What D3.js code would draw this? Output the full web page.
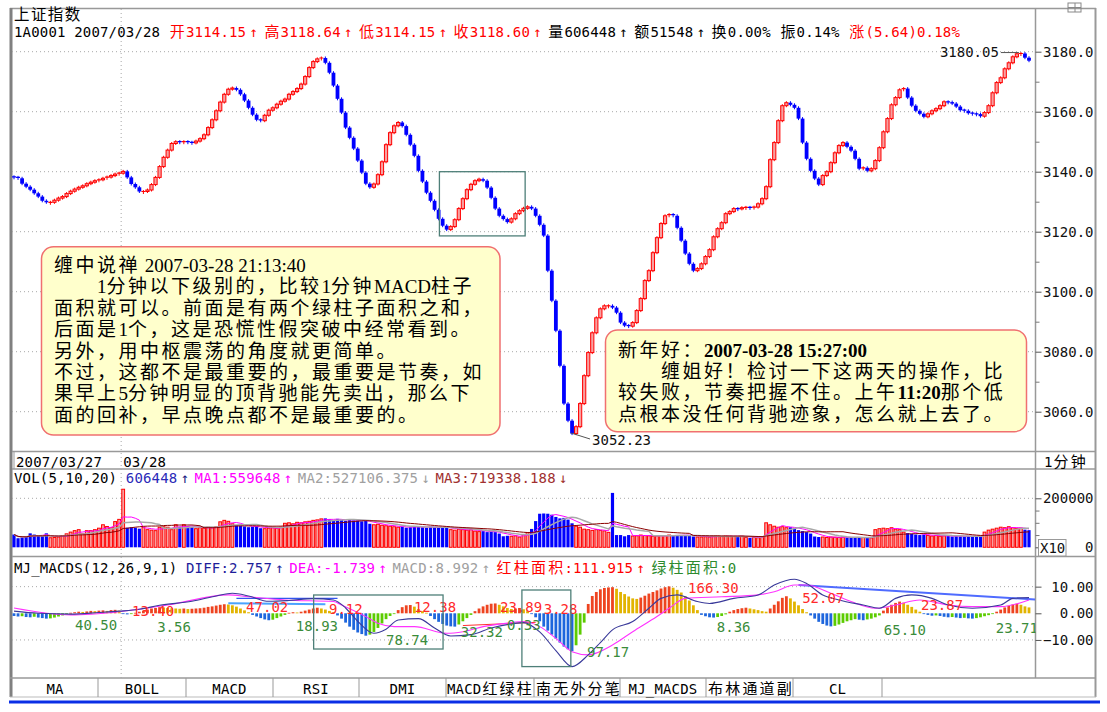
<!DOCTYPE html>
<html><head><meta charset="utf-8">
<script src="https://cdn.jsdelivr.net/npm/d3@7"></script>
<style>body{margin:0;background:#fff}svg{display:block}text{white-space:pre}</style>
</head><body>
<svg id="c" width="1107" height="712"></svg>
<script>
// ---------------- DATA ----------------
const closes = [3138.1,3137.8,3136.0,3135.0,3134.0,3132.8,3131.7,3130.3,3129.8,3129.8,
3130.5,3131.2,3131.7,3132.7,3133.5,3134.2,3134.8,3135.3,3136.0,3136.5,
3137.0,3137.3,3137.8,3138.2,3138.7,3139.2,3139.5,3140.1,3138.1,3135.9,
3134.8,3133.4,3133.4,3133.9,3135.7,3138.1,3141.7,3144.8,3147.2,3149.4,
3150.0,3149.8,3150.0,3149.8,3149.6,3150.2,3151.0,3152.3,3154.7,3157.3,
3160.3,3163.2,3165.8,3167.5,3167.9,3167.3,3165.8,3163.7,3161.3,3159.0,
3157.3,3157.0,3158.8,3160.5,3161.3,3162.5,3163.5,3164.2,3165.8,3166.7,
3167.7,3169.2,3171.7,3174.7,3176.7,3177.6,3177.9,3176.3,3173.0,3168.7,
3164.3,3159.7,3154.7,3151.3,3147.7,3143.7,3139.7,3136.0,3134.8,3135.9,
3139.0,3143.3,3149.0,3153.0,3155.3,3156.4,3155.2,3152.3,3149.0,3145.3,
3140.3,3136.7,3133.0,3130.3,3127.3,3124.3,3122.0,3120.7,3121.7,3124.0,
3127.7,3131.0,3134.0,3135.8,3137.0,3137.5,3137.0,3134.7,3131.3,3127.7,
3125.3,3124.2,3123.2,3124.3,3126.0,3127.0,3127.8,3128.3,3127.7,3125.3,
3122.3,3118.7,3107.0,3097.0,3087.0,3075.3,3062.7,3057.0,3052.7,3055.0,
3062.7,3072.0,3079.7,3086.3,3091.3,3094.3,3095.3,3095.3,3094.7,3093.0,
3089.7,3088.7,3088.5,3089.7,3093.7,3097.7,3103.7,3107.0,3113.0,3118.0,
3122.7,3125.3,3125.7,3125.3,3121.3,3117.0,3112.7,3109.3,3107.0,3107.7,
3109.3,3111.7,3114.0,3118.3,3121.0,3123.0,3126.0,3126.7,3127.7,3127.6,
3128.0,3128.1,3128.0,3128.2,3129.3,3131.0,3135.0,3144.0,3149.7,3157.0,
3162.0,3163.0,3162.3,3161.3,3157.7,3149.7,3144.3,3140.3,3137.7,3135.7,
3138.7,3140.0,3143.0,3146.3,3148.7,3149.7,3148.3,3147.0,3144.3,3141.0,
3141.3,3140.3,3141.0,3143.7,3148.0,3153.3,3157.7,3162.3,3164.7,3167.3,
3167.7,3164.7,3162.0,3160.3,3159.3,3158.3,3159.3,3160.3,3161.0,3162.0,
3163.3,3163.2,3162.7,3161.7,3160.5,3160.3,3159.5,3159.3,3159.2,3158.5,
3159.7,3162.0,3166.3,3169.7,3171.3,3174.3,3176.3,3178.3,3179.3,3179.4,
3178.0,3177.0];
const firstOpen = 3138.3;

const volumes = [52000,37000,40000,42000,57000,52000,48000,45000,
57000,39000,40000,42000,48000,55000,62000,68000,72000,55000,68000,68000,72000,78000,92000,85000,80000,105000,
114000,237000,
80000,82000,80000,76000,
82000,72000,70000,68000,82000,84000,82000,72000,
92000,84000,92000,86000,82000,76000,
80000,78000,82000,80000,84000,
104000,110000,106000,
96000,90000,88000,85000,82000,84000,86000,
78000,76000,78000,80000,78000,82000,
98000,100000,96000,102000,100000,104000,106000,
110000,112000,116000,118000,114000,110000,116000,112000,108000,114000,110000,
110000,106000,108000,
96000,92000,94000,90000,88000,86000,
84000,82000,84000,80000,82000,86000,84000,82000,80000,84000,82000,80000,82000,80000,
72000,70000,74000,72000,70000,72000,
66000,64000,66000,62000,64000,62000,
56000,45000,47000,45000,47000,42000,52000,60000,75000,107000,
137000,138000,137000,133000,124000,118000,120000,113000,98000,86000,
82000,74000,72000,69000,72000,69000,67000,61000,222000,50000,
50000,45000,50000,46000,47000,50000,48000,47000,45000,46000,
48000,47000,50000,48000,50000,50000,50000,50000,
44000,42000,42000,43000,42000,
45000,46000,44000,46000,45000,44000,46000,45000,
40000,38000,40000,39000,41000,
100000,92000,86000,
82000,84000,80000,82000,78000,
70000,66000,62000,56000,
44000,42000,42000,40000,42000,41000,40000,
42000,40000,40000,39000,41000,40000,
38000,38000,
72000,76000,78000,76000,80000,74000,72000,
62000,58000,55000,52000,50000,52000,
48000,46000,48000,45000,47000,46000,44000,46000,45000,44000,46000,44000,45000,46000,
62000,70000,74000,78000,82000,80000,84000,80000,
76000,78000,72000,70000];

const macdHist = [-1.0,-1.2,-1.1,-1.4,-1.5,-1.3,-1.6,-1.8,-2.0,-1.9,-1.6,-1.2,-0.8,
-0.3,0.2,0.4,0.6,0.5,0.7,0.9,0.8,1.0,1.1,0.9,1.2,1.3,1.0,
-0.2,-0.4,-0.3,0.2,
0.6,1.0,1.4,1.8,2.0,2.3,2.2,2.0,
1.9,1.8,1.7,1.8,1.6,1.7,1.8,1.9,2.1,2.4,2.6,
2.9,3.2,3.4,3.3,3.0,
2.5,1.8,1.1,0.4,
-0.6,-1.2,-1.8,-2.3,-2.6,
-2.4,-1.8,-1.2,-0.6,
0.2,0.4,0.3,
0.6,1.0,1.4,1.8,2.1,
1.8,1.4,0.9,0.4,
-0.8,-2.0,-3.5,-5.0,-6.2,-7.2,-7.8,-8.4,
-8.0,-7.0,-5.5,-3.8,-2.2,-1.0,-0.2,
1.2,2.3,3.0,3.1,2.5,
1.6,0.8,0.2,
-1.0,-2.2,-3.2,-4.0,-4.6,-4.9,-5.0,
-4.2,-3.0,-1.8,-0.6,
0.8,1.8,2.6,3.2,3.6,3.7,
3.2,2.6,2.0,1.6,
1.8,2.0,1.5,0.8,
-0.3,-1.5,
-3.0,-5.0,-6.5,-8.0,-9.5,-11.0,-12.5,-13.5,-14.2,
-12.0,-8.0,-3.5,
3.5,6.5,8.0,9.0,9.5,
9.7,9.8,9.2,
8.0,7.2,6.3,5.6,
5.4,5.9,6.6,7.4,
8.0,8.6,9.3,9.8,10.1,
9.6,8.8,7.8,6.4,
4.8,3.0,1.2,
-0.6,-1.1,-1.5,-1.6,-1.4,-1.0,-0.4,
0.6,1.2,1.6,1.9,2.1,
1.8,1.5,1.2,0.8,0.6,
1.8,3.2,4.5,5.8,6.4,
5.6,4.4,3.0,1.6,
0.4,-0.8,
-2.0,-3.2,-4.0,-4.6,-4.9,
-4.7,-4.2,-3.6,-3.0,-2.6,-2.2,
-2.4,-2.6,-2.3,-2.0,-1.5,-0.8,
1.0,2.2,3.2,3.9,4.4,
4.0,3.2,2.4,1.4,0.6,
-0.3,-0.6,-0.9,-0.8,-1.0,-1.3,-1.5,-1.4,-1.6,-1.8,-1.7,-1.9,-2.0,-1.8,-1.5,-1.1,-0.7,-0.3,
0.6,1.4,2.2,2.8,3.3,3.6,
3.2,2.6,2.2];

const diffBars = [0,6,14,21,26,31,36,44,50,54,58,63,68,74,79,82,85,89,92,95,100,104,108,113,118,123,126,130,134,138,142,145,148,153,157,160,164,169,172,178,184,188,193,196,200,204,210,214,218,222,227,231,237,244,247,251];
const diffValues = [0.8,0,-0.3,0.3,0.8,1.5,3,4.5,6.5,7.5,6.5,4.5,4.8,5.5,5,2,-3,-7.5,-6,-2.5,-2,-5.5,-8.5,-8,-5.5,-4,-3.5,-7,-14,-20,-15.6,-11,-6.2,-3.1,1.9,5.6,6.9,4.4,3.7,5.6,6.9,10.6,12.8,11.2,6.9,5,3.1,1.9,5.6,6.9,5.6,3.1,1.9,3.1,5.6,5.9];
const deaBars = [0,14,26,38,53,58,67,79,81,87,90,94,99,107,111,116,122,126,130,134,138,142,148,153,159,162,166,175,184,188,193,196,202,207,213,218,224,231,237,244,251];
const deaValues = [2.0,-0.6,0.6,3.1,6.9,6.2,5,4.4,3.1,-1.25,-3.75,-5,-5,-7.5,-6.9,-5,-3.7,-3.1,-5,-9.4,-14.4,-15.6,-11.9,-6.9,-1.2,1.9,5.6,6.2,6.9,8.1,10.6,10.6,7.5,4.4,1.9,3.1,5,3.1,2.5,2.5,5];

const areaLabels = ["40.50","13.40","3.56","47.02","18.93","9.12","78.74","12.38","32.32","23.89","0.33","3.28","97.17","166.30","8.36","52.07","65.10","23.87","23.71"];
const areaLabelBar = [15.1,29.2,35.4,57.4,69.7,77.9,92,98.9,110.5,120.2,121.9,131,141.7,166.7,173.8,194.9,215.1,224.3,242.8];
const areaLabelVal = [-6.3,-1.0,-7.2,0.6,-6.6,-0.2,-11.9,0.5,-9,0.5,-6.3,-0.4,-16.3,7.5,-6.9,3.8,-8.1,1.2,-7.5];
const areaLabelSign = [-1,1,-1,1,-1,1,-1,1,-1,1,-1,1,-1,1,-1,1,-1,1,-1];

const trendFromBar = [53,55,194,111];
const trendFromVal = [3.8,5.6,10.6,-4.6];
const trendToBar = [77,80,252.5,129];
const trendToVal = [3.4,5.6,5.2,-3.4];

const priceTicks = [3060,3080,3100,3120,3140,3160,3180];
const priceMinor = [3070,3090,3110,3130,3150,3170];
const volTicks = [0,200000];
const volMinor = [50000,100000,150000];
const macdTicks = [-10,0,10];

const priceBox = [105.2,126.4,3140,3118.6];
const macdBoxes = [[74.1,106.1,6.87,-13.4],[125.6,137.7,8.74,-20.0]];
const lowMark = {bar:138, value:3052.23, text:"3052.23"};
const highMark = {bar:249, value:3180.05, text:"3180.05"};

const dayLabels = ["2007/03/27","03/28"];
const dayBoundary = 26.5;
const tabs = ["MA","BOLL","MACD","RSI","DMI","MACD红绿柱","南无外分笔","MJ_MACDS","布林通道副","CL"];

const note1 = ["缠中说禅 2007-03-28 21:13:40","　　1分钟以下级别的，比较1分钟MACD柱子","面积就可以。前面是有两个绿柱子面积之和，","后面是1个，这是恐慌性假突破中经常看到。","另外，用中枢震荡的角度就更简单。","不过，这都不是最重要的，最重要是节奏，如","果早上5分钟明显的顶背驰能先卖出，那么下","面的回补，早点晚点都不是最重要的。"];
const note2 = ["新年好：2007-03-28 15:27:00","　　缠姐好！检讨一下这两天的操作，比","较失败，节奏把握不住。上午11:20那个低","点根本没任何背驰迹象，怎么就上去了。"];

// ---------------- SETUP ----------------
const svg = d3.select("#c");
svg.append("rect").attr("width",1107).attr("height",712).attr("fill","#fff");
const N = closes.length;
const opens = closes.map((c,i)=> i===0 ? firstOpen : closes[i-1]);
const xS = d3.scaleLinear().domain([0, N-1]).range([14, 1029]);
const yP = d3.scaleLinear().domain([3060,3180]).range([411.7,51.7]);
const yV = d3.scaleLinear().domain([0,200000]).range([547.3,498.3]);
const yM = d3.scaleLinear().domain([-10,10]).range([639.95,586.65]);
const MONO = "'DejaVu Sans Mono', monospace";
const MONO_CJK = "'DejaVu Sans Mono', 'Noto Sans CJK SC', monospace";
const SERIF_CJK = "'Liberation Serif', 'Noto Sans CJK SC', serif";
const RED="#ff0000", BLUE="#0000ff", PINK="#f7a0a0";

const defs = svg.append("defs");
defs.append("clipPath").attr("id","cMain").append("rect").attr("x",12).attr("y",9).attr("width",1023.5).attr("height",442);
defs.append("clipPath").attr("id","cVol").append("rect").attr("x",12).attr("y",470).attr("width",1023.5).attr("height",86);
defs.append("clipPath").attr("id","cMacd").append("rect").attr("x",12).attr("y",557).attr("width",1023.5).attr("height",120);

// one <text> per call; each char placed on a fixed half/full-width grid
function gridText(parent, x0, y, parts, hw=8.6){
  let x = x0;
  const t = parent.append("text").attr("y",y);
  parts.forEach(([str,color])=>{
    for(const ch of str){
      const code = ch.codePointAt(0);
      const arrow = ch==="↑"||ch==="↓";
      const full = code>0x2e80 || arrow;
      if(ch!==" " && ch!=="　"){
        t.append("tspan").attr("x", arrow? x+3 : (full? x+1 : x)).attr("y",y)
          .attr("fill",color)
          .style("font-family", (full&&!arrow)?MONO_CJK:MONO)
          .style("font-size", (full&&!arrow)?"15px":"14px")
          .text(ch);
      }
      x += full? hw*2 : hw;
    }
  });
  return x;
}
function gridWidth(str,hw=8.6){let w=0;for(const ch of str){w+= (ch.codePointAt(0)>0x2e80)?hw*2:hw;}return w;}

// ---------------- FRAME ----------------
const frame = svg.append("g").attr("stroke","#999").attr("fill","none");
frame.append("line").attr("x1",10).attr("x2",1096).attr("y1",8.5).attr("y2",8.5).attr("stroke-width",1.5);
frame.append("line").attr("x1",11).attr("x2",11).attr("y1",8).attr("y2",697).attr("stroke","#808080").attr("stroke-width",3);
frame.append("line").attr("x1",1095.5).attr("x2",1095.5).attr("y1",8).attr("y2",697).attr("stroke-width",2);
frame.append("line").attr("x1",1035.5).attr("x2",1035.5).attr("y1",8).attr("y2",678).attr("stroke-width",1.5);
[451.5,469,556.5].forEach(y=>frame.append("line").attr("x1",12).attr("x2",1096).attr("y1",y).attr("y2",y).attr("stroke-width",1.5));
frame.append("line").attr("x1",10).attr("x2",1096).attr("y1",678).attr("y2",678).attr("stroke-width",1.5);
frame.append("line").attr("x1",10).attr("x2",1096).attr("y1",697).attr("y2",697).attr("stroke","#bbb");
svg.append("line").attr("x1",9).attr("x2",1100).attr("y1",702).attr("y2",702).attr("stroke","#0a2ee6").attr("stroke-width",3);
frame.append("rect").attr("x",1068).attr("y",3).attr("width",13).attr("height",9).attr("stroke","#888");
frame.append("line").attr("x1",1068).attr("x2",1081).attr("y1",7.5).attr("y2",7.5).attr("stroke","#888");
frame.append("line").attr("x1",1075).attr("x2",1075).attr("y1",3).attr("y2",12).attr("stroke","#888");

// ---------------- GRID ----------------
const grid = svg.append("g").attr("stroke","#a8a8a8").attr("stroke-dasharray","1,3").attr("stroke-width",1);
priceTicks.forEach(p=>grid.append("line").attr("x1",12).attr("x2",1035).attr("y1",yP(p)).attr("y2",yP(p)));
grid.append("line").attr("x1",12).attr("x2",1035).attr("y1",yV(200000)).attr("y2",yV(200000));
[-10,10].forEach(v=>grid.append("line").attr("x1",12).attr("x2",1035).attr("y1",yM(v)).attr("y2",yM(v)));
grid.append("line").attr("x1",xS(dayBoundary)).attr("x2",xS(dayBoundary)).attr("y1",9).attr("y2",678);

// ---------------- TITLE / HEADER ----------------
svg.append("text").attr("x",14).attr("y",20).style("font-family",SERIF_CJK).style("font-size","15.5px").style("letter-spacing","1.4px").attr("fill","#000").text("上证指数");
const hdr = svg.append("g");
const hx1 = gridText(hdr,14,36.5,[["1A0001 2007/03/28 ","#000"]]);
gridText(hdr,hx1,36.5,[["开3114.15↑高3118.64↑低3114.15↑收3118.60↑","#f00"],["量606448↑额51548↑换0.00% 振0.14% ","#000"],["涨(5.64)0.18%","#f00"]]);

// ---------------- CANDLES ----------------
const cg = svg.append("g").attr("clip-path","url(#cMain)");
closes.forEach((c,i)=>{
  const o = opens[i], up = c>=o, x = xS(i);
  const yt = yP(Math.max(o,c)), yb = yP(Math.min(o,c));
  const h = Math.max(1, yb-yt);
  const col = up?RED:BLUE;
  cg.append("line").attr("x1",x).attr("x2",x).attr("y1",yt-1.5).attr("y2",yt+h+1.5).attr("stroke",col).attr("stroke-width",1);
  if(h<=1.2){
    cg.append("line").attr("x1",x-2).attr("x2",x+2).attr("y1",yt).attr("y2",yt).attr("stroke",col).attr("stroke-width",1.2);
  } else if(up){
    cg.append("rect").attr("x",x-1.6).attr("y",yt).attr("width",3.2).attr("height",h).attr("fill",PINK).attr("stroke",RED).attr("stroke-width",1);
  } else {
    cg.append("rect").attr("x",x-1.9).attr("y",yt).attr("width",3.8).attr("height",h).attr("fill",BLUE);
  }
});
svg.append("rect").attr("x",xS(priceBox[0])).attr("y",yP(priceBox[2])).attr("width",xS(priceBox[1])-xS(priceBox[0])).attr("height",yP(priceBox[3])-yP(priceBox[2])).attr("fill","none").attr("stroke","#4e7f78").attr("stroke-width",1.3);
{
  const lx = xS(lowMark.bar), ly = yP(lowMark.value);
  svg.append("path").attr("d",`M${lx-1},${ly-2}L${lx+18},${ly+4}`).attr("stroke","#555").attr("fill","none");
  svg.append("text").attr("x",lx+20).attr("y",ly+10).style("font-family",MONO).style("font-size","14px").attr("fill","#111").text(lowMark.text);
  const hx = xS(highMark.bar), hy = yP(highMark.value);
  svg.append("path").attr("d",`M${hx-20},${hy+1}L${hx-2},${hy+1}`).attr("stroke","#555").attr("fill","none");
  svg.append("text").attr("x",hx-22).attr("y",hy+5.5).attr("text-anchor","end").style("font-family",MONO).style("font-size","14px").attr("fill","#111").text(highMark.text);
}

// ---------------- NOTES ----------------
function noteBox(x,y,w,h){
  svg.append("rect").attr("x",x).attr("y",y).attr("width",w).attr("height",h).attr("rx",12).attr("ry",12)
    .attr("fill","#ffffcc").attr("stroke","#f07070").attr("stroke-width",1.5);
}
function noteText(x,y0,dy,lines,bold){
  const t = svg.append("text").style("font-size","19px").style("font-family",SERIF_CJK).attr("fill","#000");
  lines.forEach((str,k)=>{
    const runs = str.match(/[\x20-\x7e]+|[^\x20-\x7e]+/g);
    runs.forEach((r,j)=>{
      const ascii = /^[\x20-\x7e]+$/.test(r);
      const ts = t.append("tspan").text(r)
        .style("font-family", SERIF_CJK)
        .style("font-weight", ascii&&bold?"bold":"normal")
        .style("letter-spacing", ascii?"0px":"2.5px");
      if(j===0) ts.attr("x",x).attr("y",y0+k*dy);
    });
  });
}
noteBox(41.5,246.7,458.5,188.3);
noteText(54,272,21.4,note1,false);
noteBox(605.5,330,421,101.7);
noteText(618,357,21.2,note2,true);

// ---------------- PRICE AXIS ----------------
function styleAxis(g){
  g.select(".domain").remove();
  g.selectAll("line").attr("stroke","#555");
  g.selectAll("text").attr("x",58).attr("text-anchor","end").style("font-family",MONO).style("font-size","14px").attr("fill","#111");
}
svg.append("g").attr("transform","translate(1035.5,0)").call(d3.axisRight(yP).tickValues(priceTicks).tickSize(6).tickFormat(d3.format(".1f"))).call(styleAxis);
svg.append("g").attr("transform","translate(1035.5,0)").call(d3.axisRight(yP).tickValues(priceMinor).tickSize(4).tickFormat("")).call(g=>{g.select(".domain").remove();g.selectAll("line").attr("stroke","#777");});

// ---------------- DATE ROW ----------------
const dr = svg.append("g");
gridText(dr,16,466.5,[[dayLabels[0],"#000"]]);
gridText(dr,xS(dayBoundary)+2,466.5,[[dayLabels[1],"#000"]]);
dr.append("line").attr("x1",14).attr("x2",14).attr("y1",452).attr("y2",469).attr("stroke","#999");
gridText(dr,1044,467,[["1分钟","#000"]]);

// ---------------- VOLUME ----------------
const vh = svg.append("g");
gridText(vh,14,483,[["VOL(5,10,20) ","#000"],["606448","#2a2ab8"],["↑","#1a1a80"],["MA1:559648↑","#ff00ff"],["MA2:527106.375↓","#a0a0a0"],["MA3:719338.188↓","#a03030"]]);
const vg = svg.append("g").attr("clip-path","url(#cVol)");
volumes.forEach((v,i)=>{
  const up = closes[i]>=opens[i], x=xS(i);
  const yt=yV(v), h=yV(0)-yt;
  if(up) vg.append("rect").attr("x",x-1.4).attr("y",yt).attr("width",2.8).attr("height",h).attr("fill",PINK).attr("stroke",RED).attr("stroke-width",1);
  else vg.append("rect").attr("x",x-1.6).attr("y",yt).attr("width",3.2).attr("height",h).attr("fill",BLUE);
});
function movAvg(arr,n){return arr.map((_,i)=>d3.mean(arr.slice(Math.max(0,i-n+1),i+1)));}
[[5,"#ff00ff",1],[10,"#a8a8a8",1.5],[20,"#8b0000",1]].forEach(([n,col,w])=>{
  const ma = movAvg(volumes,n);
  vg.append("path").attr("d",d3.line().x((d,i)=>xS(i)).y(d=>yV(d))(ma)).attr("fill","none").attr("stroke",col).attr("stroke-width",w);
});
svg.append("g").attr("transform","translate(1035.5,0)").call(d3.axisRight(yV).tickValues(volTicks).tickSize(6).tickFormat(d3.format("d"))).call(styleAxis);
svg.append("g").attr("transform","translate(1035.5,0)").call(d3.axisRight(yV).tickValues(volMinor).tickSize(4).tickFormat("")).call(g=>{g.select(".domain").remove();g.selectAll("line").attr("stroke","#777");});
svg.append("rect").attr("x",1038.5).attr("y",539.5).attr("width",27.5).attr("height",16.5).attr("fill","#fff").attr("stroke","#999");
svg.append("text").attr("x",1040).attr("y",552.5).style("font-family",MONO).style("font-size","14px").attr("fill","#111").text("X10");

// ---------------- MACD ----------------
const mh = svg.append("g");
gridText(mh,14,573,[["MJ_MACDS(12,26,9,1) ","#000"],["DIFF:2.757↑","#1e1e9a"],["DEA:-1.739↑","#ff00ff"],["MACD:8.992↑","#a0a0a0"],["红柱面积:111.915↑","#ff0000"],["绿柱面积:0","#2e8b2e"]]);
const mg = svg.append("g").attr("clip-path","url(#cMacd)");
macdHist.forEach((v,i)=>{
  const p = i>0?macdHist[i-1]:v;
  const col = v>=0 ? (v>=p?"#ee4420":"#e2b400") : (v<=p?"#1e66dd":"#5ccc00");
  const y0=yM(0), y1=yM(v);
  mg.append("rect").attr("x",xS(i)-1.4).attr("y",Math.min(y0,y1)).attr("width",2.8).attr("height",Math.max(0.8,Math.abs(y1-y0))).attr("fill",col);
});
const trendStyle = [["#4aa3ff",2],["#3355ee",1.2],["#4f6bff",2],["#ff3030",1]];
trendFromBar.forEach((b,k)=>{
  mg.append("line").attr("x1",xS(b)).attr("y1",yM(trendFromVal[k])).attr("x2",xS(trendToBar[k])).attr("y2",yM(trendToVal[k]))
    .attr("stroke",trendStyle[k][0]).attr("stroke-width",trendStyle[k][1]);
});
const lineGen = d3.line().curve(d3.curveMonotoneX);
mg.append("path").attr("d",lineGen(deaBars.map((b,k)=>[xS(b),yM(deaValues[k])]))).attr("fill","none").attr("stroke","#ff33ff").attr("stroke-width",1.1);
mg.append("path").attr("d",lineGen(diffBars.map((b,k)=>[xS(b),yM(diffValues[k])]))).attr("fill","none").attr("stroke","#3a3a9a").attr("stroke-width",1.1);
macdBoxes.forEach(b=>{
  svg.append("rect").attr("x",xS(b[0])).attr("y",yM(b[2])).attr("width",xS(b[1])-xS(b[0])).attr("height",yM(b[3])-yM(b[2])).attr("fill","none").attr("stroke","#4e7f78").attr("stroke-width",1.3);
});
areaLabels.forEach((t,k)=>{
  mg.append("text").attr("x",xS(areaLabelBar[k])).attr("y",yM(areaLabelVal[k])).style("font-family",MONO).style("font-size","14px")
    .attr("fill", areaLabelSign[k]>0?"#ff2a2a":"#3a8c3a").text(t);
});
svg.append("g").attr("transform","translate(1035.5,0)").call(d3.axisRight(yM).tickValues(macdTicks).tickSize(6).tickFormat(d3.format(".2f"))).call(styleAxis);

// ---------------- TABS ----------------
const tabEdges = [12,98,186,273,359,446,534,620,706,793,882];
const tg = svg.append("g");
tabs.forEach((t,k)=>{
  const x0=tabEdges[k], x1=tabEdges[k+1];
  tg.append("line").attr("x1",x1).attr("x2",x1).attr("y1",678).attr("y2",697).attr("stroke","#999");
  const w = gridWidth(t);
  gridText(tg, Math.max(x0+1,(x0+x1)/2-w/2), 694, [[t,"#000"]]);
});
</script>
</body></html>
